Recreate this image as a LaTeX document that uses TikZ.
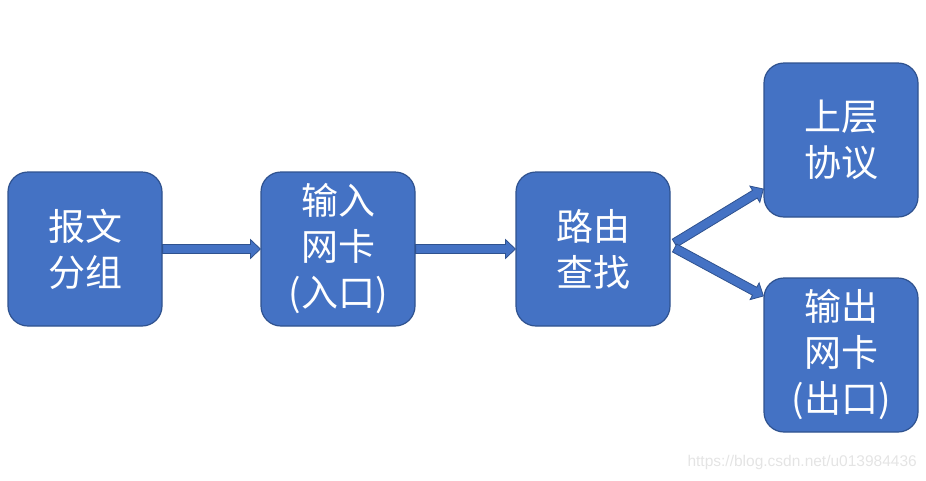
\documentclass[tikz,border=0pt]{standalone}
\usepackage{fontspec}
\newfontfamily\cjk{Noto Sans CJK SC}
\newfontfamily\wmfont{Liberation Sans}
\usetikzlibrary{calc}
\definecolor{boxfill}{HTML}{4472C4}
\definecolor{boxline}{HTML}{2F528F}
\definecolor{wmgray}{HTML}{E4E4E4}
\tikzset{
  blockbox/.style={draw=boxline, line width=1.2pt, fill=boxfill, rounded corners=20pt,
    minimum width=154pt, minimum height=154pt, inner sep=0pt,
    text=white, align=center, font=\cjk\fontsize{37}{46}\selectfont},
  blockarrow/.style={draw=boxline, line width=0.8pt, fill=boxfill, line join=miter}
}
\newcommand\blkarrow[2]{%
  \coordinate (ah) at ($(#2)!10pt!(#1)$);
  \draw[blockarrow] ($(#1)!4.5pt!90:(#2)$) -- ($(ah)!4.5pt!-90:(#1)$)
    -- ($(ah)!9.5pt!-90:(#1)$) -- (#2) -- ($(ah)!9.5pt!90:(#1)$)
    -- ($(ah)!4.5pt!90:(#1)$) -- ($(#1)!4.5pt!-90:(#2)$) -- cycle;}
\begin{document}
\begin{tikzpicture}[x=1pt,y=-1pt]
\useasboundingbox (0,0) rectangle (926,480);
\node[blockbox] (a) at (85,249) {报文\\分组};
\node[blockbox] (b) at (338,249) {输入\\网卡\\(入口)};
\node[blockbox] (c) at (593,249) {路由\\查找};
\node[blockbox] (d) at (841,140) {上层\\协议};
\node[blockbox] (e) at (841,355) {输出\\网卡\\(出口)};
\coordinate (c1) at ([shift={(4,-6)}]c.east);
\coordinate (c2) at ([shift={(4,-1)}]c.east);
\coordinate (d1) at ([shift={(0,49)}]d.west);
\coordinate (e1) at ([shift={(0,-59)}]e.west);
\blkarrow{a.east}{b.west}
\blkarrow{b.east}{c.west}
\blkarrow{c1}{d1}
\blkarrow{c2}{e1}
\node[wmgray, font=\wmfont\fontsize{15.5}{17}\selectfont, anchor=east, inner sep=0pt] (wm) at (917,462) {https://blog.csdn.net/u013984436};
\end{tikzpicture}
\end{document}
